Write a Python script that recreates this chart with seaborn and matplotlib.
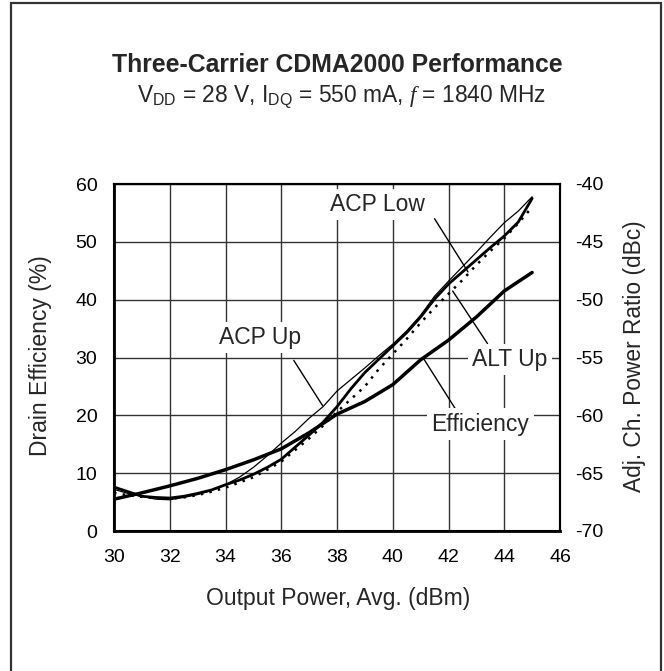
import numpy as np
import pandas as pd
import seaborn as sns
import matplotlib.pyplot as plt
from matplotlib.patches import Rectangle

# values
pout_eff = [30, 31, 32, 33, 34, 35, 36, 37, 38, 39, 40, 41, 42, 43, 44, 45]
efficiency = [5.5, 6.6, 7.8, 9.1, 10.6, 12.3, 14.2, 17.0, 20.2, 22.4, 25.3, 29.6, 33.0, 37.0, 41.5, 44.7]

pout_acp = [30, 30.5, 31, 31.5, 32, 32.5, 33, 33.5, 34, 34.5, 35, 35.5, 36, 36.5, 37, 37.5,
            38, 38.5, 39, 39.5, 40, 40.5, 41, 41.5, 42, 42.5, 43, 43.5, 44, 44.5, 45]
acp_up = [-66.4, -66.75, -67.0, -67.25, -67.3, -67.1, -66.85, -66.5, -66.0, -65.35, -64.5,
          -63.5, -62.4, -61.4, -60.25, -59.25, -57.9, -56.9, -55.9, -54.85, -53.85, -52.7,
          -51.35, -49.7, -48.4, -47.15, -45.9, -44.6, -43.35, -42.35, -41.1]
acp_low = [-66.2, -66.6, -67.0, -67.1, -67.15, -67.0, -66.75, -66.45, -66.0, -65.6, -65.1,
           -64.5, -63.8, -62.75, -61.7, -60.6, -59.25, -57.7, -56.3, -55.15, -54.0, -52.85,
           -51.5, -49.95, -48.65, -47.6, -46.55, -45.5, -44.5, -43.3, -41.25]
alt_up = [-66.7, -66.9, -67.05, -67.15, -67.2, -67.1, -66.9, -66.6, -66.25, -65.8, -65.35,
          -64.7, -64.0, -63.0, -62.0, -60.9, -59.7, -58.6, -57.5, -56.0, -54.7, -53.4,
          -52.0, -50.7, -49.5, -48.3, -47.0, -45.8, -44.7, -43.4, -42.0]

x_ticks = [30, 32, 34, 36, 38, 40, 42, 44, 46]
left_ticks = [0, 10, 20, 30, 40, 50, 60]
right_ticks = [-70, -65, -60, -55, -50, -45, -40]

sns.set_theme(style="white")
plt.rcParams['font.family'] = ['Liberation Sans', 'DejaVu Sans']
plt.rcParams['mathtext.fontset'] = 'custom'
plt.rcParams['mathtext.rm'] = 'Liberation Sans'
plt.rcParams['mathtext.it'] = 'Liberation Serif:italic'
plt.rcParams['axes.unicode_minus'] = False

fig = plt.figure(figsize=(6.64, 6.71), dpi=100)
ax = fig.add_axes([114 / 664, 1 - 531 / 671, 446 / 664, 347 / 671])
ax2 = ax.twinx()

df_acp = pd.DataFrame({'pout': pout_acp, 'acp_up': acp_up, 'acp_low': acp_low, 'alt_up': alt_up})

sns.lineplot(x=pout_eff, y=efficiency, ax=ax, color='black', lw=2.5, zorder=3)
sns.lineplot(data=df_acp, x='pout', y='alt_up', ax=ax2, color='black', lw=1.8,
             linestyle=(0, (1, 2.5)))
sns.lineplot(data=df_acp, x='pout', y='acp_low', ax=ax2, color='black', lw=2.0)
sns.lineplot(data=df_acp, x='pout', y='acp_up', ax=ax2, color='black', lw=0.9)

ax.set_xlim(30, 46)
ax.set_ylim(0, 60)
ax2.set_ylim(-70, -40)
ax.set_xticks(x_ticks)
ax.set_yticks(left_ticks)
ax2.set_yticks(right_ticks)
ax.set_xlabel('')
ax.set_ylabel('')
ax2.set_ylabel('')
ax.grid(True, color='#333333', lw=1.0)
ax.set_axisbelow(True)
ax.tick_params(axis='x', length=0, labelsize=14, pad=13, colors='black')
ax.tick_params(axis='y', length=0, labelsize=14, pad=12, colors='black')
ax2.tick_params(length=0, labelsize=14, pad=11, colors='black')
for a in (ax, ax2):
    for s in a.spines.values():
        s.set_color('black')
        s.set_linewidth(1.5)
ax.spines['left'].set_linewidth(2)
ax.spines['bottom'].set_linewidth(2)

# curve labels with leader lines
box = dict(facecolor='white', edgecolor='none', pad=3)
lbl = dict(fontsize=16.5, ha='center', va='center', bbox=box, zorder=5)
ax.text(39.45, 56.4, 'ACP Low', **lbl)
ax.annotate('', xy=(42.7, 44.8), xytext=(41.5, 54.0),
            arrowprops=dict(arrowstyle='-', color='black', lw=1, shrinkA=0, shrinkB=0))
ax.text(35.25, 33.5, 'ACP Up', **lbl)
ax.annotate('', xy=(37.48, 21.7), xytext=(36.45, 29.5),
            arrowprops=dict(arrowstyle='-', color='black', lw=1, shrinkA=0, shrinkB=0))
ax.text(44.2, 29.6, 'ALT Up', **lbl)
ax.annotate('', xy=(42.15, 41.5), xytext=(43.4, 32.4),
            arrowprops=dict(arrowstyle='-', color='black', lw=1, shrinkA=0, shrinkB=0))
ax.text(43.15, 18.5, 'Efficiency', **lbl)
ax.annotate('', xy=(41.12, 29.7), xytext=(42.25, 21.1),
            arrowprops=dict(arrowstyle='-', color='black', lw=1, shrinkA=0, shrinkB=0))

fig.text(0.508, 1 - 64.5 / 671, 'Three-Carrier CDMA2000 Performance',
         ha='center', va='center', fontsize=17.8, fontweight='bold')
fig.text(0.515, 1 - 97 / 671,
         r'V$_{\mathrm{DD}}$ = 28 V, I$_{\mathrm{DQ}}$ = 550 mA, $\mathit{f}$ = 1840 MHz',
         ha='center', va='center', fontsize=16.4)
fig.text(0.509, 1 - 598 / 671, 'Output Power, Avg. (dBm)', ha='center', va='center', fontsize=16.5)
fig.text(40.5 / 664, 1 - 356 / 671, 'Drain Efficiency (%)', ha='center', va='center',
         rotation=90, fontsize=16.5)
fig.text(634 / 664, 1 - 356 / 671, 'Adj. Ch. Power Ratio (dBc)', ha='center', va='center',
         rotation=90, fontsize=16.4)

fig.patches.append(Rectangle((11 / 664, -0.02), 650 / 664, 1 - 2.5 / 671 + 0.02,
                             transform=fig.transFigure, fill=False, edgecolor='#333333', lw=1.6))

fig.savefig('out.png', dpi=100)
